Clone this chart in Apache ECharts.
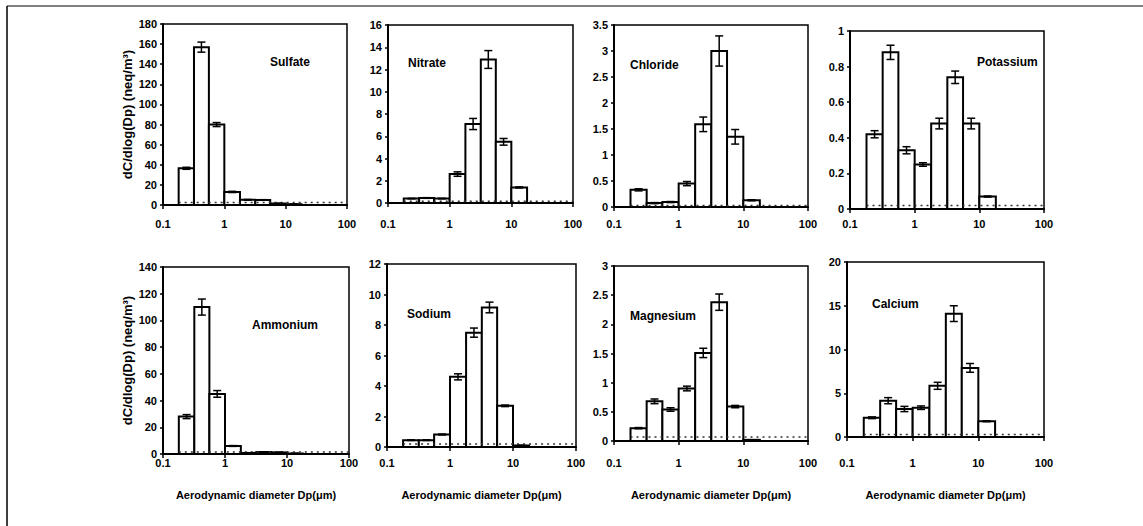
<!DOCTYPE html>
<html>
<head>
<meta charset="utf-8">
<title>Size distributions of ionic species</title>
<script src="https://cdn.jsdelivr.net/npm/echarts@6/dist/echarts.min.js"></script>
<style>
  html, body { margin: 0; padding: 0; background: #fff; }
  #chart { width: 1143px; height: 526px; }
</style>
</head>
<body>
<div id="chart"></div>
<script>
// Impactor stage cut points (µm): each bar spans one stage
const binEdges = [0.18, 0.32, 0.56, 1.0, 1.8, 3.2, 5.6, 10, 18];

const species = ['Sulfate', 'Nitrate', 'Chloride', 'Potassium', 'Ammonium', 'Sodium', 'Magnesium', 'Calcium'];

// dC/dlog(Dp) in neq/m3 for each stage
const sulfate   = [36.5, 157, 80, 13, 5.2, 5.0, 1.5, 0.8];
const nitrate   = [0.4, 0.45, 0.4, 2.6, 7.1, 12.9, 5.5, 1.4];
const chloride  = [0.33, 0.075, 0.095, 0.45, 1.59, 3.0, 1.35, 0.13];
const potassium = [0.42, 0.88, 0.33, 0.25, 0.48, 0.74, 0.48, 0.07];
const ammonium  = [28, 110, 45, 6, 0.8, 1.5, 1.2, 0.4];
const sodium    = [0.45, 0.45, 0.82, 4.6, 7.5, 9.15, 2.7, 0.1];
const magnesium = [0.22, 0.68, 0.54, 0.9, 1.51, 2.38, 0.59, 0.02];
const calcium   = [2.2, 4.15, 3.2, 3.35, 5.85, 14.1, 7.9, 1.8];

// standard errors for each stage
const sulfateErr   = [1, 5, 2, 0.6, 0.3, 0.3, 0.2, 0.1];
const nitrateErr   = [0.02, 0.03, 0.02, 0.2, 0.5, 0.8, 0.3, 0.05];
const chlorideErr  = [0.02, 0.01, 0.01, 0.04, 0.14, 0.29, 0.14, 0.01];
const potassiumErr = [0.02, 0.04, 0.02, 0.01, 0.03, 0.035, 0.03, 0.003];
const ammoniumErr  = [1.5, 6, 2.5, 0.3, 0.1, 0.1, 0.1, 0.05];
const sodiumErr    = [0.02, 0.02, 0.03, 0.2, 0.3, 0.35, 0.05, 0.01];
const magnesiumErr = [0.01, 0.04, 0.03, 0.04, 0.08, 0.14, 0.02, 0.002];
const calciumErr   = [0.1, 0.35, 0.3, 0.2, 0.4, 0.9, 0.5, 0.05];

// field blank level drawn as a dotted line
const blankLevels = [2.5, 0.15, 0.03, 0.02, 1.5, 0.2, 0.07, 0.3];

// y axis ranges
const yMax      = [180, 16, 3.5, 1, 140, 12, 3, 20];
const yInterval = [20, 2, 0.5, 0.2, 20, 2, 0.5, 5];

// x axis decade labels
const xTicks = [0.1, 1, 10, 100];

const values = [sulfate, nitrate, chloride, potassium, ammonium, sodium, magnesium, calcium];
const errors = [sulfateErr, nitrateErr, chlorideErr, potassiumErr, ammoniumErr, sodiumErr, magnesiumErr, calciumErr];

// panel boxes in px: left, top, width, height
const panels = [
  [163, 24, 184, 181],
  [388, 25, 185, 178],
  [614, 25, 194, 182],
  [850, 31, 194, 178],
  [163, 267, 186, 187],
  [387, 264, 189, 183],
  [614, 266, 194, 175],
  [847, 262, 197, 175]
];
// position of the species name inside each panel
const namePos = [
  [270, 62], [408, 63], [630, 65], [977, 62],
  [252, 325], [407, 314], [630, 316], [872, 304]
];

const FONT = "'Liberation Sans', Arial, sans-serif";

const chart = echarts.init(document.getElementById('chart'), null, { renderer: 'svg' });

const grids = [], xAxes = [], yAxes = [], series = [], graphics = [];

panels.forEach((p, i) => {
  const [left, top, width, height] = p;
  const bottom = top + height;
  const topRow = i < 4;
  const labelRowY = topRow ? 224 : 463;

  grids.push({
    left: left, top: top, width: width, height: height,
    show: true, borderColor: '#000', borderWidth: 1.5, backgroundColor: 'transparent'
  });

  xAxes.push({
    type: 'log', logBase: 10, gridIndex: i, min: xTicks[0], max: xTicks[xTicks.length - 1],
    axisLine: { show: true, lineStyle: { color: '#000', width: 2 } },
    axisTick: { show: true, length: 4, lineStyle: { color: '#000', width: 1.5 } },
    splitLine: { show: false },
    axisLabel: {
      color: '#000', fontFamily: FONT, fontWeight: 'bold', fontSize: 11,
      margin: labelRowY - 6 - bottom,
      formatter: v => String(v)
    }
  });

  const yAx = {
    type: 'value', gridIndex: i, min: 0, max: yMax[i], interval: yInterval[i],
    axisLine: { show: true, lineStyle: { color: '#000', width: 2 } },
    axisTick: { show: true, length: 3, lineStyle: { color: '#000', width: 1.5 } },
    splitLine: { show: false },
    axisLabel: { color: '#000', fontFamily: FONT, fontWeight: 'bold', fontSize: 11, margin: 6 }
  };
  if (i === 0 || i === 4) {
    yAx.name = 'dC/dlog(Dp) (neq/m\u00B3)';
    yAx.nameLocation = 'middle';
    yAx.nameRotate = 90;
    yAx.nameGap = 29;
    yAx.nameTextStyle = { color: '#000', fontFamily: FONT, fontWeight: 'bold', fontSize: 13 };
  }
  yAxes.push(yAx);

  // stage bars
  const barData = values[i].map((v, k) => [binEdges[k], binEdges[k + 1], v]);
  series.push({
    type: 'custom', xAxisIndex: i, yAxisIndex: i, z: 2,
    data: barData,
    encode: { x: [0, 1], y: 2 },
    renderItem: (params, api) => {
      const p0 = api.coord([api.value(0), api.value(2)]);
      const p1 = api.coord([api.value(1), 0]);
      return {
        type: 'rect',
        shape: { x: p0[0], y: p0[1], width: p1[0] - p0[0], height: p1[1] - p0[1] },
        style: { fill: '#fff', stroke: '#000', lineWidth: 2 }
      };
    }
  });

  // blank level
  series.push({
    type: 'line', xAxisIndex: i, yAxisIndex: i, z: 3,
    data: [[binEdges[0], blankLevels[i]], [xTicks[xTicks.length - 1], blankLevels[i]]],
    symbol: 'none', silent: true,
    lineStyle: { color: '#333', width: 1.5, type: [2, 4] }
  });

  // error bars at the geometric centre of each stage
  const errData = values[i].map((v, k) => [
    Math.sqrt(binEdges[k] * binEdges[k + 1]), v - errors[i][k], v + errors[i][k]
  ]);
  series.push({
    type: 'custom', xAxisIndex: i, yAxisIndex: i, z: 4,
    data: errData,
    encode: { x: 0, y: [1, 2] },
    renderItem: (params, api) => {
      const lo = api.coord([api.value(0), api.value(1)]);
      const hi = api.coord([api.value(0), api.value(2)]);
      const cap = 4;
      const st = { stroke: '#000', lineWidth: 1.5 };
      return {
        type: 'group',
        children: [
          { type: 'line', shape: { x1: lo[0], y1: lo[1], x2: hi[0], y2: hi[1] }, style: st },
          { type: 'line', shape: { x1: lo[0] - cap, y1: lo[1], x2: lo[0] + cap, y2: lo[1] }, style: st },
          { type: 'line', shape: { x1: hi[0] - cap, y1: hi[1], x2: hi[0] + cap, y2: hi[1] }, style: st }
        ]
      };
    }
  });

  graphics.push({
    type: 'text', x: namePos[i][0], y: namePos[i][1],
    style: { text: species[i], fill: '#000', font: 'bold 12px ' + FONT, textAlign: 'left', textVerticalAlign: 'middle' }
  });

  if (!topRow) {
    graphics.push({
      type: 'text', x: left + width / 2, y: 495,
      style: {
        text: 'Aerodynamic diameter Dp(\u03BCm)', fill: '#000',
        font: 'bold 11px ' + FONT, textAlign: 'center', textVerticalAlign: 'middle'
      }
    });
  }
});

// outer figure frame (left and top edges)
graphics.push({ type: 'line', shape: { x1: 7, y1: 6, x2: 7, y2: 526 }, style: { stroke: '#000', lineWidth: 1.5 } });
graphics.push({ type: 'line', shape: { x1: 7, y1: 6, x2: 1143, y2: 6 }, style: { stroke: '#000', lineWidth: 1.2 } });

chart.setOption({
  animation: false,
  backgroundColor: '#fff',
  grid: grids,
  xAxis: xAxes,
  yAxis: yAxes,
  series: series,
  graphic: graphics
});
</script>
</body>
</html>
